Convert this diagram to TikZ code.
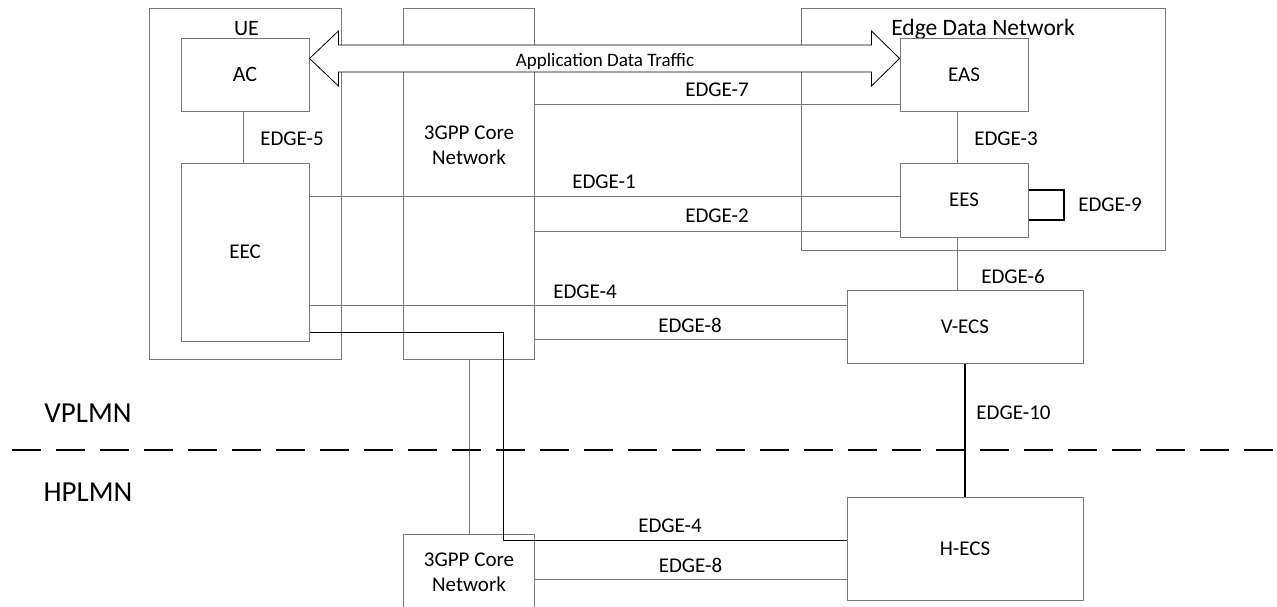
\documentclass[tikz,border=0pt]{standalone}
\usepackage{fontspec}
\setmainfont{Carlito}
\usetikzlibrary{calc}
\definecolor{lg}{RGB}{120,120,120}
\begin{document}
\begin{tikzpicture}[x=1pt,y=-1pt,
  box/.style={draw=lg, line width=1pt, inner sep=0pt},
  lbl/.style={font=\fontsize{21}{25}\selectfont, inner sep=0pt},
  big/.style={font=\fontsize{29}{34}\selectfont, inner sep=0pt},
  conn/.style={draw=lg, line width=1pt},
  blk/.style={draw=black, line width=1pt},
  thk/.style={draw=black, line width=2pt},
  bigarrow/.style={draw=black, line width=0.8pt, fill=white, line join=miter}
]
\useasboundingbox (0,0) rectangle (1277,606);
% boxes
\node[box, minimum width=192pt, minimum height=351pt] (ue) at (245,183.5) {};
\node[lbl, font=\fontsize{22}{26}\selectfont] (uel) at (246.5,29) {UE};
\node[box, lbl, font=\fontsize{22}{26}\selectfont, minimum width=128pt, minimum height=73pt] (ac) at (245,74.5) {AC};
\node[box, lbl, minimum width=128pt, minimum height=178pt] (eec) at (245,252) {EEC};
\node[box, minimum width=131pt, minimum height=351pt] (core) at (468.5,183.5) {};
\node[lbl, align=center] (corel) at (469,145.5) {3GPP Core\\Network};
\node[box, minimum width=364pt, minimum height=242pt] (edn) at (983,129) {};
\node[lbl, font=\fontsize{23.5}{28}\selectfont, anchor=base] (ednl) at (983,35.7) {Edge Data Network};
\node[box, lbl, minimum width=128pt, minimum height=73pt] (eas) at (964,74.5) {EAS};
\node[box, lbl, minimum width=128pt, minimum height=74pt] (ees) at (964,200) {EES};
\node[box, lbl, minimum width=236pt, minimum height=73pt] (vecs) at (965,326.5) {V-ECS};
\node[box, lbl, minimum width=236pt, minimum height=103pt] (hecs) at (965,548.5) {H-ECS};
\begin{scope}
\clip (0,0) rectangle (1277,606);
\node[box, minimum width=131pt, minimum height=100pt] (coreb) at (468.5,584) {};
\end{scope}
\node[lbl, align=center] (corebl) at (469,572.5) {3GPP Core\\Network};
% connectors
\draw[conn] (ac.south -| 243,0) -- (eec.north -| 243,0);
\draw[conn] (eas.south -| 957,0) -- (ees.north -| 957,0);
\draw[conn] (ees.south -| 957,0) -- (vecs.north -| 957,0);
\draw[conn] (core.east |- 0,104) -- (eas.west |- 0,104);
\draw[conn] (eec.east |- 0,196) -- (ees.west |- 0,196);
\draw[conn] (core.east |- 0,231) -- (ees.west |- 0,231);
\draw[conn] (eec.east |- 0,305.5) -- (vecs.west |- 0,305.5);
\draw[conn] (core.east |- 0,339.5) -- (vecs.west |- 0,339.5);
\draw[conn] (core.south -| 469,0) -- (coreb.north -| 469,0);
\draw[conn] (coreb.east |- 0,579) -- (hecs.west |- 0,579);
\draw[blk] (eec.east |- 0,332) -- (503,332) -- (503,540.5) -- (hecs.west |- 0,540.5);
\draw[thk] (vecs.south) -- (hecs.north);
\draw[thk] (ees.east |- 0,190) -- ++(35,0) -- ++(0,30) -- (ees.east |- 0,220);
% application data traffic arrow
\coordinate (al) at (ac.east |- 0,58.5);
\coordinate (ar) at (eas.west |- 0,58.5);
\draw[bigarrow] (al) -- ($(al)+(29,-27.5)$) -- ($(al)+(29,-13.5)$) -- ($(ar)+(-28,-13.5)$)
  -- ($(ar)+(-28,-27.5)$) -- (ar) -- ($(ar)+(-28,27.5)$) -- ($(ar)+(-28,13.5)$)
  -- ($(al)+(29,13.5)$) -- ($(al)+(29,27.5)$) -- cycle;
\node[font=\fontsize{19}{23}\selectfont, inner sep=0pt, anchor=base] (adt) at (605,66.5) {Application Data Traffic};
% labels
\node[lbl] (e5) at (292,138.5) {EDGE-5};
\node[lbl] (e7) at (717,90) {EDGE-7};
\node[lbl] (e3) at (1006,138.5) {EDGE-3};
\node[lbl] (e9) at (1110,205) {EDGE-9};
\node[lbl] (e1) at (604,182) {EDGE-1};
\node[lbl] (e2) at (717,216) {EDGE-2};
\node[lbl] (e6) at (1013,276) {EDGE-6};
\node[lbl] (e4a) at (585,292) {EDGE-4};
\node[lbl] (e8a) at (690,325) {EDGE-8};
\node[lbl] (e10) at (1013.5,412.5) {EDGE-10};
\node[lbl] (e4b) at (670,525.5) {EDGE-4};
\node[lbl] (e8b) at (690.5,565) {EDGE-8};
% PLMN separator
\draw[black, line width=1.5pt, dash pattern=on 29pt off 15pt] (12,450) -- (1277,450);
\node[big] (vp) at (88,413) {VPLMN};
\node[big] (hp) at (88,492.5) {HPLMN};
\end{tikzpicture}
\end{document}
